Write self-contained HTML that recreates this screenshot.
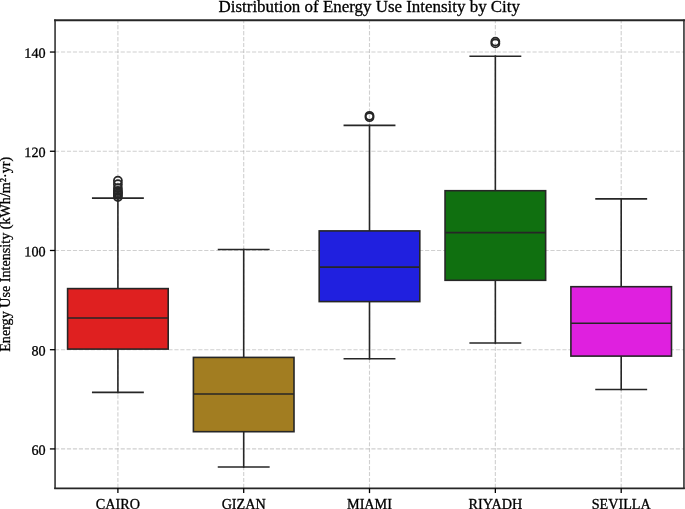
<!DOCTYPE html>
<html><head><meta charset="utf-8"><style>
html,body{margin:0;padding:0;background:#fff;width:685px;height:509px;overflow:hidden}
svg{display:block;will-change:transform}
text{font-family:"Liberation Serif",serif}
</style></head><body>
<svg width="685" height="509" viewBox="0 0 685 509">
<rect width="685" height="509" fill="#fff"/>
<g stroke="#b0b0b0" stroke-opacity="0.6" stroke-width="1.1" stroke-dasharray="4.167 1.802" fill="none"><line x1="55.0" y1="448.92" x2="684.0" y2="448.92"/><line x1="55.0" y1="349.70" x2="684.0" y2="349.70"/><line x1="55.0" y1="250.48" x2="684.0" y2="250.48"/><line x1="55.0" y1="151.26" x2="684.0" y2="151.26"/><line x1="55.0" y1="52.04" x2="684.0" y2="52.04"/><line x1="117.9" y1="488.0" x2="117.9" y2="20.0" stroke-dasharray="4.159 1.799"/><line x1="243.7" y1="488.0" x2="243.7" y2="20.0" stroke-dasharray="4.159 1.799"/><line x1="369.5" y1="488.0" x2="369.5" y2="20.0" stroke-dasharray="4.159 1.799"/><line x1="495.35" y1="488.0" x2="495.35" y2="20.0" stroke-dasharray="4.159 1.799"/><line x1="621.2" y1="488.0" x2="621.2" y2="20.0" stroke-dasharray="4.159 1.799"/></g>
<g stroke="#262626" stroke-width="1.6" fill="none" stroke-linecap="square">
<line x1="117.9" y1="288.6" x2="117.9" y2="198.1"/>
<line x1="117.9" y1="349.1" x2="117.9" y2="392.4"/>
<line x1="92.75" y1="198.1" x2="143.05" y2="198.1"/>
<line x1="92.75" y1="392.4" x2="143.05" y2="392.4"/>
</g>
<rect x="67.60" y="288.6" width="100.60" height="60.50" fill="#df2020" stroke="#262626" stroke-width="1.6"/>
<line x1="67.60" y1="318.0" x2="168.20" y2="318.0" stroke="#262626" stroke-width="1.6"/>
<circle cx="117.9" cy="180.7" r="4.0" fill="none" stroke="#262626" stroke-width="1.8"/>
<circle cx="117.9" cy="184.2" r="4.0" fill="none" stroke="#262626" stroke-width="1.8"/>
<circle cx="117.9" cy="188.1" r="4.0" fill="none" stroke="#262626" stroke-width="1.8"/>
<circle cx="117.9" cy="190.8" r="4.0" fill="none" stroke="#262626" stroke-width="1.8"/>
<circle cx="117.9" cy="192.2" r="4.0" fill="none" stroke="#262626" stroke-width="1.8"/>
<circle cx="117.9" cy="193.6" r="4.0" fill="none" stroke="#262626" stroke-width="1.8"/>
<circle cx="117.9" cy="195.0" r="4.0" fill="none" stroke="#262626" stroke-width="1.8"/>
<circle cx="117.9" cy="197.0" r="4.0" fill="none" stroke="#262626" stroke-width="1.8"/>
<g stroke="#262626" stroke-width="1.6" fill="none" stroke-linecap="square">
<line x1="243.7" y1="357.4" x2="243.7" y2="249.55"/>
<line x1="243.7" y1="431.7" x2="243.7" y2="467.0"/>
<line x1="218.55" y1="249.55" x2="268.85" y2="249.55"/>
<line x1="218.55" y1="467.0" x2="268.85" y2="467.0"/>
</g>
<rect x="193.40" y="357.4" width="100.60" height="74.30" fill="#a27d21" stroke="#262626" stroke-width="1.6"/>
<line x1="193.40" y1="394.05" x2="294.00" y2="394.05" stroke="#262626" stroke-width="1.6"/>
<g stroke="#262626" stroke-width="1.6" fill="none" stroke-linecap="square">
<line x1="369.5" y1="230.9" x2="369.5" y2="125.35"/>
<line x1="369.5" y1="301.6" x2="369.5" y2="358.7"/>
<line x1="344.35" y1="125.35" x2="394.65" y2="125.35"/>
<line x1="344.35" y1="358.7" x2="394.65" y2="358.7"/>
</g>
<rect x="319.20" y="230.9" width="100.60" height="70.70" fill="#2020df" stroke="#262626" stroke-width="1.6"/>
<line x1="319.20" y1="267.1" x2="419.80" y2="267.1" stroke="#262626" stroke-width="1.6"/>
<circle cx="369.5" cy="115.8" r="4.0" fill="none" stroke="#262626" stroke-width="1.8"/>
<circle cx="369.5" cy="117.2" r="4.0" fill="none" stroke="#262626" stroke-width="1.8"/>
<g stroke="#262626" stroke-width="1.6" fill="none" stroke-linecap="square">
<line x1="495.35" y1="190.7" x2="495.35" y2="56.2"/>
<line x1="495.35" y1="280.3" x2="495.35" y2="343.0"/>
<line x1="470.20" y1="56.2" x2="520.50" y2="56.2"/>
<line x1="470.20" y1="343.0" x2="520.50" y2="343.0"/>
</g>
<rect x="445.05" y="190.7" width="100.60" height="89.60" fill="#107010" stroke="#262626" stroke-width="1.6"/>
<line x1="445.05" y1="232.6" x2="545.65" y2="232.6" stroke="#262626" stroke-width="1.6"/>
<circle cx="495.35" cy="41.6" r="4.0" fill="none" stroke="#262626" stroke-width="1.8"/>
<circle cx="495.35" cy="43.4" r="4.0" fill="none" stroke="#262626" stroke-width="1.8"/>
<g stroke="#262626" stroke-width="1.6" fill="none" stroke-linecap="square">
<line x1="621.2" y1="286.7" x2="621.2" y2="198.85"/>
<line x1="621.2" y1="356.1" x2="621.2" y2="389.5"/>
<line x1="596.05" y1="198.85" x2="646.35" y2="198.85"/>
<line x1="596.05" y1="389.5" x2="646.35" y2="389.5"/>
</g>
<rect x="570.90" y="286.7" width="100.60" height="69.40" fill="#df20df" stroke="#262626" stroke-width="1.6"/>
<line x1="570.90" y1="323.3" x2="671.50" y2="323.3" stroke="#262626" stroke-width="1.6"/>
<g stroke="#262626" stroke-linecap="square" fill="none"><line x1="55.06" y1="20.26" x2="55.06" y2="488.29" stroke-width="1.5"/><line x1="683.95" y1="20.26" x2="683.95" y2="488.29" stroke-width="1.5"/><line x1="55.06" y1="20.26" x2="683.95" y2="20.26" stroke-width="1.95"/><line x1="55.06" y1="488.29" x2="683.95" y2="488.29" stroke-width="1.7"/></g>
<g stroke="#000" stroke-width="1.3"><line x1="49.9" y1="448.92" x2="55.06" y2="448.92"/><line x1="49.9" y1="349.70" x2="55.06" y2="349.70"/><line x1="49.9" y1="250.48" x2="55.06" y2="250.48"/><line x1="49.9" y1="151.26" x2="55.06" y2="151.26"/><line x1="49.9" y1="52.04" x2="55.06" y2="52.04"/><line x1="117.9" y1="488.29" x2="117.9" y2="493.1"/><line x1="243.7" y1="488.29" x2="243.7" y2="493.1"/><line x1="369.5" y1="488.29" x2="369.5" y2="493.1"/><line x1="495.35" y1="488.29" x2="495.35" y2="493.1"/><line x1="621.2" y1="488.29" x2="621.2" y2="493.1"/></g>
<text transform="translate(45.6,454.67) rotate(0.05)" text-anchor="end" font-family="Liberation Serif, serif" stroke="#000" stroke-width="0.3" font-size="14.2" fill="#000">60</text>
<text transform="translate(45.6,355.45) rotate(0.05)" text-anchor="end" font-family="Liberation Serif, serif" stroke="#000" stroke-width="0.3" font-size="14.2" fill="#000">80</text>
<text transform="translate(45.6,256.23) rotate(0.05)" text-anchor="end" font-family="Liberation Serif, serif" stroke="#000" stroke-width="0.3" font-size="14.2" fill="#000">100</text>
<text transform="translate(45.6,157.01) rotate(0.05)" text-anchor="end" font-family="Liberation Serif, serif" stroke="#000" stroke-width="0.3" font-size="14.2" fill="#000">120</text>
<text transform="translate(45.6,57.79) rotate(0.05)" text-anchor="end" font-family="Liberation Serif, serif" stroke="#000" stroke-width="0.3" font-size="14.2" fill="#000">140</text>
<text x="117.9" y="509.2" text-anchor="middle" font-family="Liberation Serif, serif" stroke="#000" stroke-width="0.3" font-size="14.2" fill="#000">CAIRO</text>
<text x="243.7" y="509.2" text-anchor="middle" font-family="Liberation Serif, serif" stroke="#000" stroke-width="0.3" font-size="14.2" fill="#000">GIZAN</text>
<text x="369.5" y="509.2" text-anchor="middle" font-family="Liberation Serif, serif" stroke="#000" stroke-width="0.3" font-size="14.2" fill="#000">MIAMI</text>
<text x="495.35" y="509.2" text-anchor="middle" font-family="Liberation Serif, serif" stroke="#000" stroke-width="0.3" font-size="14.2" fill="#000">RIYADH</text>
<text x="621.2" y="509.2" text-anchor="middle" font-family="Liberation Serif, serif" stroke="#000" stroke-width="0.3" font-size="14.2" fill="#000">SEVILLA</text>
<text x="369.25" y="12.0" text-anchor="middle" font-family="Liberation Serif, serif" stroke="#000" stroke-width="0.3" font-size="16.93" fill="#000">Distribution of Energy Use Intensity by City</text>
<text transform="translate(9.8,254.3) rotate(-90)" text-anchor="middle" font-family="Liberation Serif, serif" stroke="#000" stroke-width="0.3" font-size="14.13" fill="#000">Energy Use Intensity (kWh/m²·yr)</text>
</svg>
</body></html>
